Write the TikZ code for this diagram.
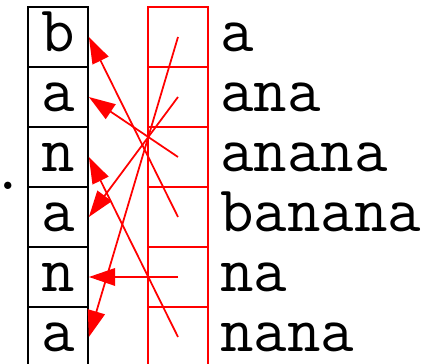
\documentclass[tikz,border=0pt]{standalone}
\usepackage{fontspec}
\usetikzlibrary{arrows.meta}

\begin{document}
\begin{tikzpicture}[
    x=0.02cm, y=-0.02cm,
    >={Triangle[length=15pt, width=10pt]},
    cell/.style={draw, line width=1pt, minimum size=1.2cm, inner sep=0pt,
        text height=17pt, text depth=0pt, font=\ttfamily\fontsize{37}{37}\selectfont},
    slot/.style={cell, draw=red},
    suffix/.style={anchor=base west, inner sep=0pt, font=\ttfamily\fontsize{37}{37}\selectfont},
    link/.style={->, line width=1pt, red},
]

\useasboundingbox (0,0) rectangle (447,364);

%--- Coordinates ---
\def\Sx{58}   % string column x
\def\Rx{178}  % suffix array column x
\def\Tx{220}  % suffix text x

%--- String (black cells) ---
\node[cell] (s0) at (\Sx, 37)  {b};
\node[cell] (s1) at (\Sx, 97)  {a};
\node[cell] (s2) at (\Sx, 157) {n};
\node[cell] (s3) at (\Sx, 217) {a};
\node[cell] (s4) at (\Sx, 277) {n};
\node[cell] (s5) at (\Sx, 337) {a};

% the dot in front of the string
\node[suffix, anchor=base] (dot) at (8, 190) {\makebox[0pt]{.}};

%--- Suffix array (red cells) ---
\node[slot] (r0) at (\Rx, 37)  {};
\node[slot] (r1) at (\Rx, 97)  {};
\node[slot] (r2) at (\Rx, 157) {};
\node[slot] (r3) at (\Rx, 217) {};
\node[slot] (r4) at (\Rx, 277) {};
\node[slot] (r5) at (\Rx, 337) {};

%--- Sorted suffixes ---
\node[suffix] (t0) at (\Tx, 52)  {a};
\node[suffix] (t1) at (\Tx, 112) {ana};
\node[suffix] (t2) at (\Tx, 172) {anana};
\node[suffix] (t3) at (\Tx, 232) {banana};
\node[suffix] (t4) at (\Tx, 292) {na};
\node[suffix] (t5) at (\Tx, 352) {nana};

%--- Pointers into the string ---
\draw[link] (r0.center) -- (s5.east);
\draw[link] (r1.center) -- (s3.east);
\draw[link] (r2.center) -- (s1.east);
\draw[link] (r3.center) -- (s0.east);
\draw[link] (r4.center) -- (s4.east);
\draw[link] (r5.center) -- (s2.east);

\end{tikzpicture}
\end{document}
